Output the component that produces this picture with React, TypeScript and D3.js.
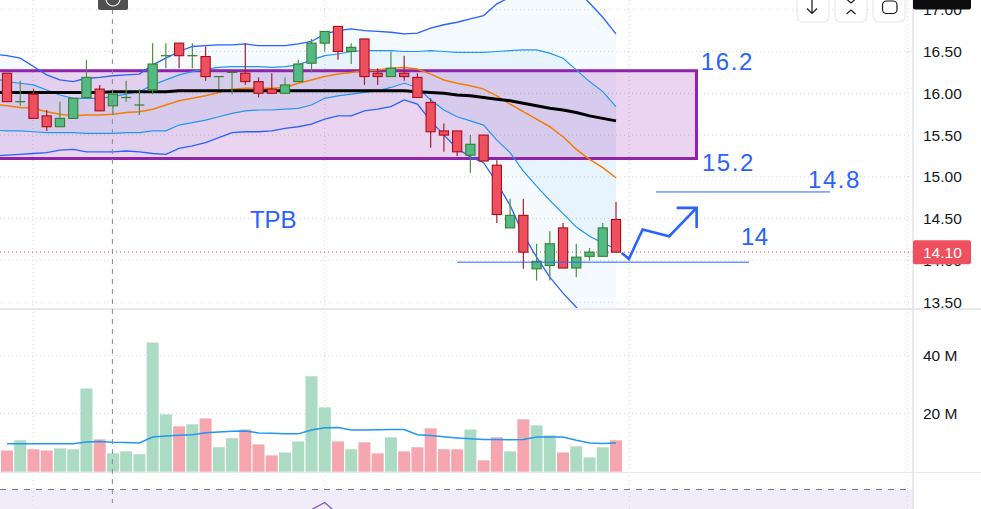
import React from "react"
import * as d3 from "d3"

const WIDTH = 981
const HEIGHT = 509
const AXIS_X = 913
const PANE_BOTTOM = 308
const FONT = "'Liberation Sans', Arial, sans-serif"
const BLUE = "#2962ff"

const opens = [16.24, 15.9, 15.99, 15.73, 15.6, 15.7, 15.95, 16.05, 15.85, 15.95, 15.86, 16.04, 16.45, 16.6, 16.45, 16.44, 16.2, 16.25, 16.24, 16.14, 16.05, 16.0, 16.14, 16.36, 16.6, 16.8, 16.5, 16.65, 16.24, 16.2, 16.24, 16.19, 15.89, 15.55, 15.55, 15.26, 15.5, 15.14, 14.39, 14.54, 13.9, 13.94, 14.39, 13.91, 14.05, 14.05, 14.49]
const highs = [16.24, 16.15, 16.05, 15.8, 15.9, 15.94, 16.4, 16.1, 15.99, 16.15, 16.05, 16.6, 16.6, 16.6, 16.6, 16.56, 16.2, 16.25, 16.6, 16.19, 16.24, 16.19, 16.4, 16.65, 16.74, 16.8, 16.6, 16.65, 16.3, 16.5, 16.45, 16.24, 15.94, 15.64, 15.55, 15.5, 15.5, 15.2, 14.74, 14.74, 14.2, 14.35, 14.45, 14.2, 14.15, 14.45, 14.7]
const lows = [15.9, 15.85, 15.7, 15.55, 15.6, 15.7, 15.95, 15.79, 15.74, 15.9, 15.74, 15.99, 16.3, 16.3, 16.3, 16.15, 16.05, 15.99, 16.1, 15.95, 16.0, 16.0, 16.14, 16.25, 16.5, 16.4, 16.35, 16.1, 16.1, 16.2, 16.15, 15.95, 15.35, 15.3, 15.25, 15.05, 15.19, 14.45, 14.39, 13.9, 13.76, 13.76, 13.91, 13.8, 14.0, 14.05, 14.1]
const closes = [15.9, 15.9, 15.7, 15.6, 15.7, 15.94, 16.19, 15.79, 15.99, 15.95, 15.86, 16.35, 16.45, 16.45, 16.45, 16.2, 16.2, 16.25, 16.14, 16.0, 16.0, 16.1, 16.35, 16.6, 16.74, 16.5, 16.55, 16.2, 16.2, 16.3, 16.2, 15.95, 15.54, 15.5, 15.3, 15.39, 15.19, 14.55, 14.54, 14.1, 13.99, 14.2, 13.91, 14.04, 14.1, 14.39, 14.1]

// indicator lines start one bar before the first candle so they reach the left edge
const upperOuter = [16.47, 16.45, 16.42, 16.32, 16.22, 16.16, 16.14, 16.18, 16.19, 16.21, 16.22, 16.23, 16.34, 16.42, 16.5, 16.56, 16.57, 16.58, 16.58, 16.59, 16.57, 16.57, 16.57, 16.59, 16.62, 16.71, 16.75, 16.77, 16.75, 16.74, 16.73, 16.71, 16.72, 16.78, 16.82, 16.85, 16.89, 16.93, 17.07, 17.15, 17.21, 17.26, 17.3, 17.28, 17.24, 17.08, 16.91, 16.71]
const upperInner = [16.18, 16.14, 16.12, 16.1, 16.04, 15.98, 15.94, 15.94, 15.94, 15.96, 15.99, 16.02, 16.1, 16.16, 16.22, 16.26, 16.29, 16.31, 16.32, 16.32, 16.32, 16.31, 16.32, 16.34, 16.4, 16.45, 16.47, 16.5, 16.51, 16.51, 16.51, 16.5, 16.5, 16.51, 16.5, 16.49, 16.49, 16.49, 16.5, 16.51, 16.52, 16.52, 16.48, 16.42, 16.28, 16.14, 16.02, 15.84]
const lowerInner = [15.56, 15.55, 15.55, 15.54, 15.53, 15.53, 15.53, 15.52, 15.52, 15.52, 15.53, 15.53, 15.55, 15.55, 15.62, 15.65, 15.68, 15.72, 15.76, 15.79, 15.8, 15.8, 15.81, 15.82, 15.86, 15.94, 15.97, 15.99, 16.01, 16.03, 16.07, 16.12, 16.07, 15.92, 15.8, 15.72, 15.67, 15.62, 15.44, 15.29, 15.07, 14.89, 14.72, 14.56, 14.4, 14.29, 14.21, 14.14]
const lowerOuter = [15.25, 15.26, 15.27, 15.28, 15.29, 15.32, 15.33, 15.3, 15.3, 15.3, 15.31, 15.3, 15.28, 15.27, 15.34, 15.37, 15.41, 15.47, 15.53, 15.54, 15.54, 15.55, 15.58, 15.6, 15.63, 15.69, 15.73, 15.73, 15.79, 15.81, 15.84, 15.92, 15.87, 15.67, 15.5, 15.34, 15.24, 15.17, 14.93, 14.66, 14.31, 14.04, 13.8, 13.61, 13.44, 13.29, 13.17, 13.11]
const fastMa = [15.87, 15.85, 15.83, 15.82, 15.78, 15.75, 15.73, 15.74, 15.74, 15.75, 15.77, 15.78, 15.81, 15.86, 15.91, 15.94, 15.97, 16.01, 16.05, 16.06, 16.06, 16.06, 16.07, 16.12, 16.16, 16.2, 16.23, 16.25, 16.27, 16.28, 16.3, 16.31, 16.29, 16.23, 16.16, 16.12, 16.09, 16.05, 15.97, 15.87, 15.78, 15.69, 15.6, 15.48, 15.33, 15.21, 15.11, 14.99]
const slowMa = [16.01, 16.01, 16.01, 16.01, 16.01, 16.01, 16.01, 16.01, 16.01, 16.02, 16.02, 16.02, 16.02, 16.02, 16.03, 16.03, 16.03, 16.03, 16.03, 16.03, 16.03, 16.03, 16.03, 16.03, 16.03, 16.03, 16.03, 16.03, 16.03, 16.03, 16.03, 16.03, 16.02, 16.01, 16.0, 15.98, 15.97, 15.95, 15.93, 15.91, 15.88, 15.85, 15.82, 15.8, 15.77, 15.73, 15.7, 15.67]

const volumes = [7.3, 10.8, 7.7, 7.3, 8, 7.7, 28.6, 11.1, 6.3, 7, 6, 44.4, 19.7, 15.6, 16.3, 18.3, 8.4, 11.5, 14.5, 9.4, 5.6, 6.6, 10.4, 32.8, 22.1, 10.4, 7.7, 10.1, 6.3, 11.8, 7, 8.4, 14.9, 7.7, 7.7, 14.5, 3.9, 11.8, 7, 18, 15.9, 12.5, 6.6, 8.7, 4.9, 8.4, 10.8]
const volumeUp = [0, 1, 0, 0, 1, 1, 1, 0, 1, 1, 1, 1, 1, 0, 1, 0, 1, 1, 0, 0, 0, 1, 1, 1, 1, 0, 1, 0, 0, 1, 0, 0, 0, 0, 0, 1, 0, 0, 1, 0, 1, 1, 0, 1, 1, 1, 0]
const volumeMa = [9.6, 9.6, 9.6, 9.6, 9.6, 9.6, 10.2, 10.4, 10.1, 10, 9.85, 11.9, 12.3, 12.5, 12.7, 13.4, 13.6, 13.9, 14, 13.3, 13.2, 13, 13, 14.3, 15.1, 15.2, 14.3, 14.3, 14.4, 14.5, 14.5, 12.7, 12.4, 12, 11.6, 11.3, 11.1, 11.1, 11, 11.1, 11.9, 11.9, 11.9, 10.8, 9.85, 9.7, 9.85]

const oscIndex = [22, 23, 24, 25]
const oscValues = [52, 57, 61.6, 54]

const priceTicks = [17, 16.5, 16, 15.5, 15, 14.5, 14, 13.5]
const volumeTicks = [20, 40]
const gridBars = [1.96, 24, 47, 68]

const zone = { top: 16.27, bottom: 15.22, end: 52.08 }
const target148 = { price: 14.82, from: 49.02, to: 62.16 }
const target14 = { price: 13.98, from: 34, to: 56.04 }
const arrowPath: [number, number][] = [[46.43, 14.09], [46.98, 14.02], [48.01, 14.37], [50.02, 14.29], [52.09, 14.63]]
const arrowHead: [number, number][] = [[50.58, 14.63], [52.09, 14.63], [52.09, 14.39]]
const notes: { label: string; bar: number; price: number; spacing: number }[] = [
    { label: "16.2", bar: 52.41, price: 16.28, spacing: 1.6 },
    { label: "15.2", bar: 52.49, price: 15.07, spacing: 1.6 },
    { label: "14.8", bar: 60.5, price: 14.87, spacing: 1.6 },
    { label: "14", bar: 55.44, price: 14.19, spacing: 0.5 },
    { label: "TPB", bar: 18.35, price: 14.39, spacing: 0 },
]
const lastPrice = 14.1

const xScale = d3.scaleLinear().domain([0, 46]).range([7, 616])
const yScale = d3.scaleLinear().domain([16, 15]).range([93.3, 176.9])
const volScale = d3.scaleLinear().domain([0, 40]).range([471.7, 355.3])
const oscScale = d3.scaleLinear().domain([70, 60]).range([489.5, 505])

const priceLine = (values: number[]) =>
    d3
        .line<number>()
        .x((_, i) => xScale(i - 1))
        .y((d) => yScale(d))(values) || ""

const bandArea = (upper: number[], lower: number[]) =>
    d3
        .area<number>()
        .x((_, i) => xScale(i - 1))
        .y0((_, i) => yScale(lower[i]))
        .y1((d) => yScale(d))(upper) || ""

const annotationLine = d3
    .line<[number, number]>()
    .x((d) => xScale(d[0]))
    .y((d) => yScale(d[1]))

const volumeLine =
    d3
        .line<number>()
        .x((_, i) => xScale(i))
        .y((d) => volScale(d))(volumeMa) || ""

const oscLine =
    d3
        .line<number>()
        .x((_, i) => xScale(oscIndex[i]))
        .y((d) => oscScale(d))(oscValues) || ""

const Candles = () => (
    <g>
        {opens.map((open, i) => {
            const close = closes[i]
            const up = close >= open
            const isDoji = close === open
            const x = xScale(i)
            const top = yScale(Math.max(open, close))
            const bottom = yScale(Math.min(open, close))
            const wick = up ? "#4f8f45" : "#a5202c"
            const border = up ? "#3a7d2c" : "#a80d1b"
            return (
                <g key={i}>
                    <line x1={x} x2={x} y1={yScale(highs[i])} y2={yScale(lows[i])} stroke={isDoji ? "#4f8f45" : wick} strokeWidth={1.2} />
                    {isDoji ? (
                        <line x1={x - 5} x2={x + 5} y1={top} y2={top} stroke="#3a7d2c" strokeWidth={1.2} />
                    ) : (
                        <rect x={x - 4.6} y={top} width={9.2} height={bottom - top} fill={up ? "#53b987" : "#ef5060"} stroke={border} strokeWidth={1.1} />
                    )}
                </g>
            )
        })}
    </g>
)

const TopButtons = () => (
    <g fill="none" stroke="#131722" strokeWidth={1.2}>
        <rect x={797} y={-12} width={32} height={34} rx={6} fill="#fff" stroke="#e6e8ee" />
        <rect x={835} y={-12} width={32} height={34} rx={6} fill="#fff" stroke="#e6e8ee" />
        <rect x={873} y={-12} width={32} height={34} rx={6} fill="#fff" stroke="#e6e8ee" />
        <path d="M812 0V13M807 8.5L812 13.5L817 8.5" />
        <path d="M846.5 -1L851 3L855.5 -1M846.5 14L851 10L855.5 14" />
        <rect x={882.5} y={1} width={14.5} height={12.5} rx={4} />
    </g>
)

export default function App() {
    return (
        <svg
            width={WIDTH}
            height={HEIGHT}
            style={{ position: "fixed", left: 0, top: 0, background: "#fff", fontFamily: FONT }}
        >
            <defs>
                <clipPath id="pricePane">
                    <rect x={0} y={0} width={AXIS_X} height={PANE_BOTTOM} />
                </clipPath>
            </defs>

            <rect x={0} y={490} width={AXIS_X} height={19} fill="#f0ecf9" />

            {priceTicks.map((t) => (
                <line key={t} x1={0} x2={AXIS_X} y1={yScale(t)} y2={yScale(t)} stroke="#d1d4dc" strokeDasharray="1 3" />
            ))}
            {volumeTicks.map((t) => (
                <line key={t} x1={0} x2={AXIS_X} y1={volScale(t)} y2={volScale(t)} stroke="#d1d4dc" strokeDasharray="1 3" />
            ))}
            {gridBars.map((b) => (
                <line key={b} x1={xScale(b)} x2={xScale(b)} y1={0} y2={HEIGHT} stroke="#d1d4dc" strokeDasharray="1 3" />
            ))}

            <g clipPath="url(#pricePane)">
                <path d={bandArea(upperOuter, lowerOuter)} fill="#2196f3" fillOpacity={0.05} />
                <path d={bandArea(upperInner, lowerInner)} fill="#2196f3" fillOpacity={0.06} />
                <rect
                    x={-10}
                    y={yScale(zone.top)}
                    width={xScale(zone.end) + 10}
                    height={yScale(zone.bottom) - yScale(zone.top)}
                    fill="#9c27b0"
                    fillOpacity={0.2}
                    stroke="#8e24aa"
                    strokeWidth={3}
                />
                <path d={priceLine(upperOuter)} fill="none" stroke={BLUE} strokeWidth={1.3} />
                <path d={priceLine(lowerOuter)} fill="none" stroke={BLUE} strokeWidth={1.3} />
                <path d={priceLine(upperInner)} fill="none" stroke="#2196f3" strokeWidth={1.2} />
                <path d={priceLine(lowerInner)} fill="none" stroke="#2196f3" strokeWidth={1.2} />
                <path d={priceLine(fastMa)} fill="none" stroke="#f57c00" strokeWidth={1.5} />
                <path d={priceLine(slowMa)} fill="none" stroke="#000" strokeWidth={3} />
            </g>

            <line x1={0} x2={AXIS_X} y1={yScale(lastPrice)} y2={yScale(lastPrice)} stroke="#f23645" strokeDasharray="1 3" />

            <Candles />

            <line x1={xScale(target14.from)} x2={xScale(target14.to)} y1={yScale(target14.price)} y2={yScale(target14.price)} stroke={BLUE} strokeWidth={1} />
            <line x1={xScale(target148.from)} x2={xScale(target148.to)} y1={yScale(target148.price)} y2={yScale(target148.price)} stroke={BLUE} strokeWidth={1} />
            <path d={annotationLine(arrowPath) || ""} fill="none" stroke={BLUE} strokeWidth={2.6} />
            <path d={annotationLine(arrowHead) || ""} fill="none" stroke={BLUE} strokeWidth={2.6} />
            {notes.map((n) => (
                <text key={n.label} x={xScale(n.bar)} y={yScale(n.price)} fontSize={24} fill={BLUE} letterSpacing={n.spacing}>
                    {n.label}
                </text>
            ))}

            {volumes.map((v, i) => (
                <rect
                    key={i}
                    x={xScale(i) - 6}
                    y={volScale(v)}
                    width={12}
                    height={volScale(0) - volScale(v)}
                    fill={volumeUp[i] ? "#acdbc3" : "#f6a6ae"}
                />
            ))}
            <path d={volumeLine} fill="none" stroke="#2196f3" strokeWidth={1.5} />

            <path d={oscLine} fill="none" stroke="#7e57c2" strokeWidth={1.3} />

            <line x1={0} x2={WIDTH} y1={309} y2={309} stroke="#e9e9ec" strokeWidth={2} />
            <line x1={0} x2={WIDTH} y1={472.5} y2={472.5} stroke="#e9e9ec" />
            <line x1={0} x2={908} y1={489.5} y2={489.5} stroke="#787b86" strokeDasharray="6 6" />
            <line x1={xScale(8) - 0.5} x2={xScale(8) - 0.5} y1={9} y2={503} stroke="#8a8a94" strokeDasharray="5 5" />
            <line x1={AXIS_X} x2={AXIS_X} y1={0} y2={HEIGHT} stroke="#e0e3eb" strokeWidth={1.5} />

            <rect x={98} y={-5} width={30} height={15} rx={2} fill="#505050" />
            <circle cx={113} cy={-1} r={7} fill="none" stroke="#fff" strokeWidth={1.2} />

            <TopButtons />

            {priceTicks.map((t) => (
                <text key={t} x={923} y={yScale(t) + 5.5} fontSize={15.5} fill="#131722">
                    {t.toFixed(2)}
                </text>
            ))}
            {volumeTicks.map((t) => (
                <text key={t} x={923} y={volScale(t) + 5.5} fontSize={15.5} fill="#131722">
                    {t} M
                </text>
            ))}

            <rect x={913} y={-5} width={58} height={14.5} rx={2} fill="#0c0c0c" />
            <rect x={913} y={yScale(lastPrice) - 12} width={58} height={24} rx={2} fill="#ef5060" />
            <text x={923} y={yScale(lastPrice) + 5.5} fontSize={15.5} fill="#fff">
                {lastPrice.toFixed(2)}
            </text>
        </svg>
    )
}
